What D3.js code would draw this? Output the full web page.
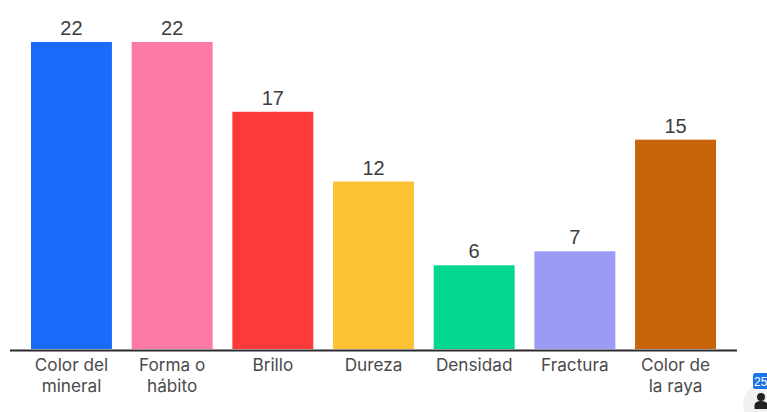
<!DOCTYPE html>
<html lang="es">
<head>
<meta charset="utf-8">
<script src="https://cdn.jsdelivr.net/npm/d3@7"></script>
<style>
html,body{margin:0;padding:0;background:#fff;overflow:hidden}
svg{display:block}
.value{font-family:"Liberation Sans",Arial,sans-serif;font-size:20px;fill:#3c3c3e;text-anchor:middle}
.tick text{font-family:Inter,sans-serif;font-size:17.2px;fill:#4a4a4c}
</style>
</head>
<body>
<svg id="chart" width="767" height="412"></svg>
<script>
const categories = [["Color del","mineral"],["Forma o","hábito"],["Brillo"],["Dureza"],["Densidad"],["Fractura"],["Color de","la raya"]];
const values = [22,22,17,12,6,7,15];
const colors = ["#1a6bfb","#fd79a8","#fd3a3a","#fdc233","#03d68f","#9b9bf5","#c8640a"];
const categoryKeys = categories.map(c => c.join(" "));

const svg = d3.select("#chart");
const x = d3.scaleBand().domain(categoryKeys).range([31,716]).paddingInner(0.196).paddingOuter(0);
const y = d3.scaleLinear().domain([0,22]).range([349,42]);

svg.selectAll("rect.bar").data(values).join("rect")
  .attr("class","bar")
  .attr("x",(d,i)=>x(categoryKeys[i]))
  .attr("y",d=>y(d))
  .attr("width",x.bandwidth())
  .attr("height",d=>y(0)-y(d))
  .attr("fill",(d,i)=>colors[i]);

svg.selectAll("text.value").data(values).join("text")
  .attr("class","value")
  .attr("x",(d,i)=>x(categoryKeys[i])+x.bandwidth()/2)
  .attr("y",d=>y(d)-7)
  .text(d=>d);

// Category axis: a dark baseline running past the bars, with two-line labels
const axis = svg.append("g").attr("transform",`translate(0,${y(0)})`)
  .call(d3.axisBottom(x).tickSize(0).tickFormat(()=>""));
axis.select(".domain").remove();
axis.append("line").attr("x1",10).attr("x2",737).attr("y1",1.5).attr("y2",1.5)
  .attr("stroke","#2a2a2e").attr("stroke-width",2);
axis.selectAll(".tick text").each(function(d,i){
  const t = d3.select(this).attr("y",0).attr("dy",null).attr("text-anchor","middle");
  categories[i].forEach((line,j)=>{
    t.append("tspan").attr("x",0).attr("y",22+j*21).text(line);
  });
});

// Participant badge in the lower right corner
const badge = svg.append("g");
badge.append("circle").attr("cx",766).attr("cy",405).attr("r",23).attr("fill","#f1f1f2");
badge.append("rect").attr("x",753).attr("y",373).attr("width",16).attr("height",16).attr("rx",2.5).attr("fill","#1a73e8");
badge.append("text").attr("x",754).attr("y",386).attr("font-family","Liberation Sans, sans-serif")
  .attr("font-size",12).attr("fill","#fff").text("25");
badge.append("circle").attr("cx",761).attr("cy",397).attr("r",4).attr("fill","#222");
badge.append("path").attr("d","M754.500 409v-3.500q0-4.500 6.500-4.500t6.500 4.500v3.500z").attr("fill","#222");
</script>
</body>
</html>
